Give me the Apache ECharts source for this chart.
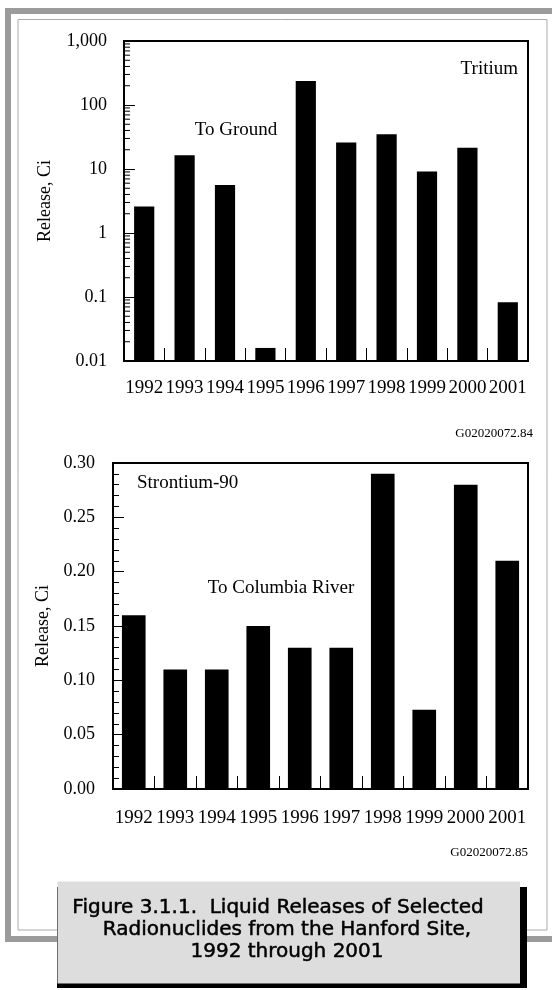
<!DOCTYPE html>
<html>
<head>
<meta charset="utf-8">
<script src="https://cdn.jsdelivr.net/npm/echarts@6/dist/echarts.min.js"></script>
<style>
html,body{margin:0;padding:0;background:#fff;}
#chart{width:552px;height:990px;}
</style>
</head>
<body>
<div id="chart"></div>
<script>
// ---- data ----
const years = ['1992','1993','1994','1995','1996','1997','1998','1999','2000','2001'];
const tritiumToGround = [2.6, 16.4, 5.6, 0.016, 237, 26, 35, 9.1, 21.5, 0.083];
const strontiumToRiver = [0.16, 0.11, 0.11, 0.15, 0.13, 0.13, 0.29, 0.073, 0.28, 0.21];
const tritiumTickLabels = ['0.01','0.1','1','10','100','1,000'];
const strontiumTickLabels = ['0.00','0.05','0.10','0.15','0.20','0.25','0.30'];
const logMinorTicks = [
  0.02,0.03,0.04,0.05,0.06,0.07,0.08,0.09,
  0.2,0.3,0.4,0.5,0.6,0.7,0.8,0.9,
  2,3,4,5,6,7,8,9,
  20,30,40,50,60,70,80,90,
  200,300,400,500,600,700,800,900
];

const SERIF = 'Liberation Serif';
const chart = echarts.init(document.getElementById('chart'), null, {renderer:'canvas'});

function xAxisCfg(gridIndex, margin){
  return {
    type:'category', gridIndex, data: years, boundaryGap:true,
    axisLine:{show:true, lineStyle:{color:'#000', width:2}},
    axisTick:{show:true, inside:true, length:13, interval:0, alignWithLabel:false, lineStyle:{color:'#000', width:1}},
    axisLabel:{interval:0, hideOverlap:false, margin, color:'#000', fontFamily:SERIF, fontSize:19},
    splitLine:{show:false}
  };
}

const option = {
  animation:false,
  backgroundColor:'#fff',
  grid:[
    {left:124, right:24, top:41, height:320, show:true, borderColor:'#000', borderWidth:2, containLabel:false},
    {left:113, right:24, top:463, height:326, show:true, borderColor:'#000', borderWidth:2, containLabel:false}
  ],
  xAxis:[ xAxisCfg(0, 18), xAxisCfg(1, 20) ],
  yAxis:[
    {
      type:'log', gridIndex:0, logBase:10, min:0.01, max:1000, splitNumber:5, startValue:0.01,
      name:'Release, Ci', nameLocation:'middle', nameRotate:90, nameGap:70,
      nameTextStyle:{color:'#000', fontFamily:SERIF, fontSize:18},
      axisLine:{show:true, lineStyle:{color:'#000', width:2}},
      axisTick:{show:true, inside:true, length:11, lineStyle:{color:'#000', width:1}},
      axisLabel:{margin:17, color:'#000', fontFamily:SERIF, fontSize:18,
        formatter:(v)=> tritiumTickLabels[Math.round(Math.log10(v)) + 2]},
      splitLine:{show:false}
    },
    {
      type:'value', gridIndex:1, min:0, max:0.3, interval:0.05,
      name:'Release, Ci', nameLocation:'middle', nameRotate:90, nameGap:60,
      nameTextStyle:{color:'#000', fontFamily:SERIF, fontSize:18},
      axisLine:{show:true, lineStyle:{color:'#000', width:2}},
      axisTick:{show:true, inside:true, length:11, lineStyle:{color:'#000', width:1}},
      minorTick:{show:true, splitNumber:5, length:6, lineStyle:{color:'#000', width:1}},
      axisLabel:{margin:18, color:'#000', fontFamily:SERIF, fontSize:18,
        formatter:(v)=> strontiumTickLabels[Math.round(v/0.05)]},
      splitLine:{show:false}, minorSplitLine:{show:false}
    }
  ],
  series:[
    {
      name:'Tritium to ground', type:'bar', xAxisIndex:0, yAxisIndex:0,
      data: tritiumToGround, barWidth:'50%', itemStyle:{color:'#000'}, z:2
    },
    {
      name:'Log minor ticks', type:'custom', xAxisIndex:0, yAxisIndex:0, silent:true, clip:false, z:6,
      data: logMinorTicks.map(v => [0, v]),
      encode:{x:0, y:1},
      renderItem:(params, api) => {
        const y = api.coord([0, api.value(1)])[1];
        const x0 = params.coordSys.x;
        return {type:'line', shape:{x1:x0, y1:y, x2:x0+6, y2:y}, style:{stroke:'#000', lineWidth:1}};
      }
    },
    {
      name:'Strontium-90 to Columbia River', type:'bar', xAxisIndex:1, yAxisIndex:1,
      data: strontiumToRiver, barWidth:'57%', itemStyle:{color:'#000'}, z:2
    }
  ],
  graphic:[
    // outer frame
    {type:'rect', z:-10, shape:{x:8, y:11, width:600, height:928}, style:{fill:null, stroke:'#9b9b9b', lineWidth:6}, silent:true},
    {type:'rect', z:-10, shape:{x:18, y:19.5, width:529, height:910.5}, style:{fill:null, stroke:'#ababab', lineWidth:1}, silent:true},
    // annotations
    {type:'text', x:518, y:69, style:{text:'Tritium', fill:'#000', font:'19px "Liberation Serif"', textAlign:'right', textVerticalAlign:'middle'}},
    {type:'text', x:236, y:130, style:{text:'To Ground', fill:'#000', font:'19px "Liberation Serif"', textAlign:'center', textVerticalAlign:'middle'}},
    {type:'text', x:533, y:434, style:{text:'G02020072.84', fill:'#000', font:'13px "Liberation Serif"', textAlign:'right', textVerticalAlign:'middle'}},
    {type:'text', x:137, y:483, style:{text:'Strontium-90', fill:'#000', font:'19px "Liberation Serif"', textAlign:'left', textVerticalAlign:'middle'}},
    {type:'text', x:281, y:588, style:{text:'To Columbia River', fill:'#000', font:'19px "Liberation Serif"', textAlign:'center', textVerticalAlign:'middle'}},
    {type:'text', x:528, y:853, style:{text:'G02020072.85', fill:'#000', font:'13px "Liberation Serif"', textAlign:'right', textVerticalAlign:'middle'}},
    // caption box
    {type:'rect', z:10, shape:{x:57, y:887, width:470, height:101}, style:{fill:'#000'}, silent:true},
    {type:'rect', z:11, shape:{x:57.5, y:881.5, width:462.5, height:102}, style:{fill:'#dddddd'}, silent:true},
    {type:'text', z:12, x:278, y:908, style:{
      text:'Figure 3.1.1.  Liquid Releases of Selected',
      fill:'#000', stroke:'#000', lineWidth:0.5, font:'20px "DejaVu Sans"', textAlign:'center', textVerticalAlign:'middle'}},
    {type:'text', z:12, x:287, y:941, style:{
      text:'Radionuclides from the Hanford Site,\n1992 through 2001',
      fill:'#000', stroke:'#000', lineWidth:0.5, font:'20px "DejaVu Sans"', lineHeight:22, textAlign:'center', textVerticalAlign:'middle'}}
  ]
};
chart.setOption(option);
</script>
</body>
</html>
